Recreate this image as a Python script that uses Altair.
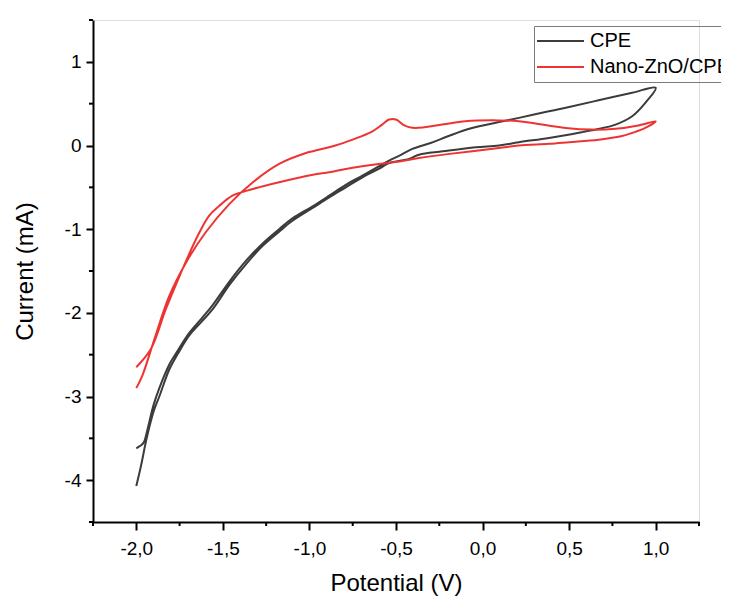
import altair as alt
import pandas as pd

# CPE (black) cyclic voltammogram, traced as one path
cpe_x = [-2.0, -1.973, -1.94, -1.9, -1.867, -1.81, -1.76, -1.694, -1.62, -1.56, -1.46, -1.367, -1.27,
         -1.175, -1.098, -0.984, -0.886, -0.79, -0.694, -0.6, -0.54, -0.425, -0.367, -0.23, -0.04,
         0.095, 0.21, 0.383, 0.575, 0.675, 0.768, 0.864, 0.94, 1.0,
         0.864, 0.67, 0.5, 0.383, 0.21, 0.095, -0.077, -0.2, -0.3, -0.406, -0.48, -0.54, -0.6,
         -0.694, -0.79, -0.886, -0.984, -1.098, -1.175, -1.27, -1.367, -1.46, -1.56, -1.62, -1.694,
         -1.76, -1.81, -1.867, -1.9, -1.935, -1.955, -1.97, -1.985, -2.0]
cpe_y = [-4.07, -3.83, -3.5, -3.18, -3.0, -2.68, -2.49, -2.27, -2.1, -1.96, -1.66, -1.42, -1.2,
         -1.03, -0.9, -0.75, -0.62, -0.5, -0.38, -0.28, -0.21, -0.16, -0.11, -0.07, -0.02,
         0.0, 0.04, 0.09, 0.16, 0.2, 0.25, 0.35, 0.51, 0.69,
         0.63, 0.54, 0.46, 0.41, 0.33, 0.28, 0.2, 0.11, 0.03, -0.04, -0.12, -0.18, -0.25,
         -0.36, -0.47, -0.6, -0.73, -0.87, -1.0, -1.17, -1.38, -1.62, -1.91, -2.06, -2.24,
         -2.45, -2.62, -2.9, -3.1, -3.39, -3.54, -3.58, -3.6, -3.62]

# Nano-ZnO/CPE (red) cyclic voltammogram, traced as one path
zno_x = [-2.0, -1.915, -1.83, -1.75, -1.655, -1.58, -1.52, -1.445, -1.37, -1.175, -0.98, -0.886,
         -0.79, -0.6, -0.48, -0.367, -0.19, 0.095, 0.21, 0.383, 0.5, 0.67, 0.8, 0.864, 0.94, 1.0,
         0.9, 0.768, 0.633, 0.48, 0.287, 0.21, 0.095, -0.1, -0.233, -0.386, -0.425, -0.46, -0.5,
         -0.54, -0.58, -0.636, -0.713, -0.75, -0.85, -0.98, -1.02, -1.175, -1.33, -1.463, -1.6,
         -1.713, -1.81, -1.89, -1.965, -2.0]
zno_y = [-2.65, -2.43, -1.96, -1.56, -1.12, -0.84, -0.72, -0.6, -0.545, -0.44, -0.35, -0.32,
         -0.28, -0.22, -0.19, -0.15, -0.1, -0.03, 0.0, 0.02, 0.04, 0.07, 0.11, 0.15, 0.21, 0.29,
         0.24, 0.2, 0.19, 0.21, 0.27, 0.29, 0.3, 0.29, 0.25, 0.21, 0.22, 0.25, 0.31,
         0.31, 0.25, 0.17, 0.1, 0.07, 0.0, -0.068, -0.09, -0.22, -0.445, -0.7, -1.04,
         -1.4, -1.8, -2.28, -2.75, -2.9]

series_names = ["CPE", "Nano-ZnO/CPE"]
series_colors = ["#3c3c3c", "#ee3333"]

x_major = [-2.0, -1.5, -1.0, -0.5, 0.0, 0.5, 1.0]
x_minor = [-2.25, -1.75, -1.25, -0.75, -0.25, 0.25, 0.75, 1.25]
y_major = [-4, -3, -2, -1, 0, 1]
y_minor = [-4.5, -3.5, -2.5, -1.5, -0.5, 0.5, 1.5]

rows = []
for i, (x, y) in enumerate(zip(cpe_x, cpe_y)):
    rows.append({"E": x, "I": y, "series": series_names[0], "idx": i})
for i, (x, y) in enumerate(zip(zno_x, zno_y)):
    rows.append({"E": x, "I": y, "series": series_names[1], "idx": i})
df = pd.DataFrame(rows)

FONT = "Liberation Sans"
xscale = alt.Scale(domain=[-2.25, 1.25], nice=False, zero=False)
yscale = alt.Scale(domain=[-4.5, 1.5], nice=False, zero=False)

x_label_expr = "(datum.value < 0 ? '-' : '') + replace(format(abs(datum.value), '.1f'), '.', ',')"
y_label_expr = "(datum.value < 0 ? '-' : '') + format(abs(datum.value), 'd')"

lines = alt.Chart(df).mark_line(strokeWidth=2, interpolate="catmull-rom").encode(
    x=alt.X("E:Q", scale=xscale, axis=alt.Axis(
        title="Potential (V)", values=x_major, labelExpr=x_label_expr, grid=False,
        domainColor="black", domainWidth=2, tickColor="black", tickWidth=2, tickSize=8,
        labelFont=FONT, labelFontSize=19, labelColor="black", labelPadding=9,
        titleFont=FONT, titleFontSize=24, titleFontWeight="normal", titleColor="black",
        titleX=303, titleY=61, titleBaseline="middle")),
    y=alt.Y("I:Q", scale=yscale, axis=alt.Axis(
        title="Current (mA)", values=y_major, labelExpr=y_label_expr, grid=False,
        domainColor="black", domainWidth=2, tickColor="black", tickWidth=2, tickSize=7,
        labelFont=FONT, labelFontSize=19, labelColor="black", labelPadding=5,
        titleFont=FONT, titleFontSize=24, titleFontWeight="normal", titleColor="black",
        titleX=-68, titleY=251, titleBaseline="middle")),
    color=alt.Color("series:N", scale=alt.Scale(domain=series_names, range=series_colors),
                    legend=alt.Legend(title=None, orient="none", legendX=441, legendY=6,
                                      symbolType="stroke", symbolSize=2209, symbolStrokeWidth=2,
                                      clipHeight=26, rowPadding=0, labelOffset=5,
                                      labelFont=FONT, labelFontSize=20, labelColor="black",
                                      strokeColor="#7a7a7a", padding=2)),
    order=alt.Order("idx:Q"),
)

xminor_df = pd.DataFrame({"v": x_minor})
yminor_df = pd.DataFrame({"v": y_minor})

xminor = alt.Chart(xminor_df).mark_rule(color="black", strokeWidth=2).encode(
    x=alt.X("v:Q", scale=xscale), y=alt.value(502), y2=alt.value(506))
yminor = alt.Chart(yminor_df).mark_rule(color="black", strokeWidth=2).encode(
    y=alt.Y("v:Q", scale=yscale), x=alt.value(0), x2=alt.value(-4))

chart = alt.layer(lines, xminor, yminor).properties(
    width=606, height=502,
    padding={"left": 85, "top": 12, "right": 22, "bottom": 75},
    autosize=alt.AutoSizeParams(type="none"),
).configure_view(stroke="transparent").configure(background="white")

chart.save("out.html", embed_options={"renderer": "svg", "actions": False})
